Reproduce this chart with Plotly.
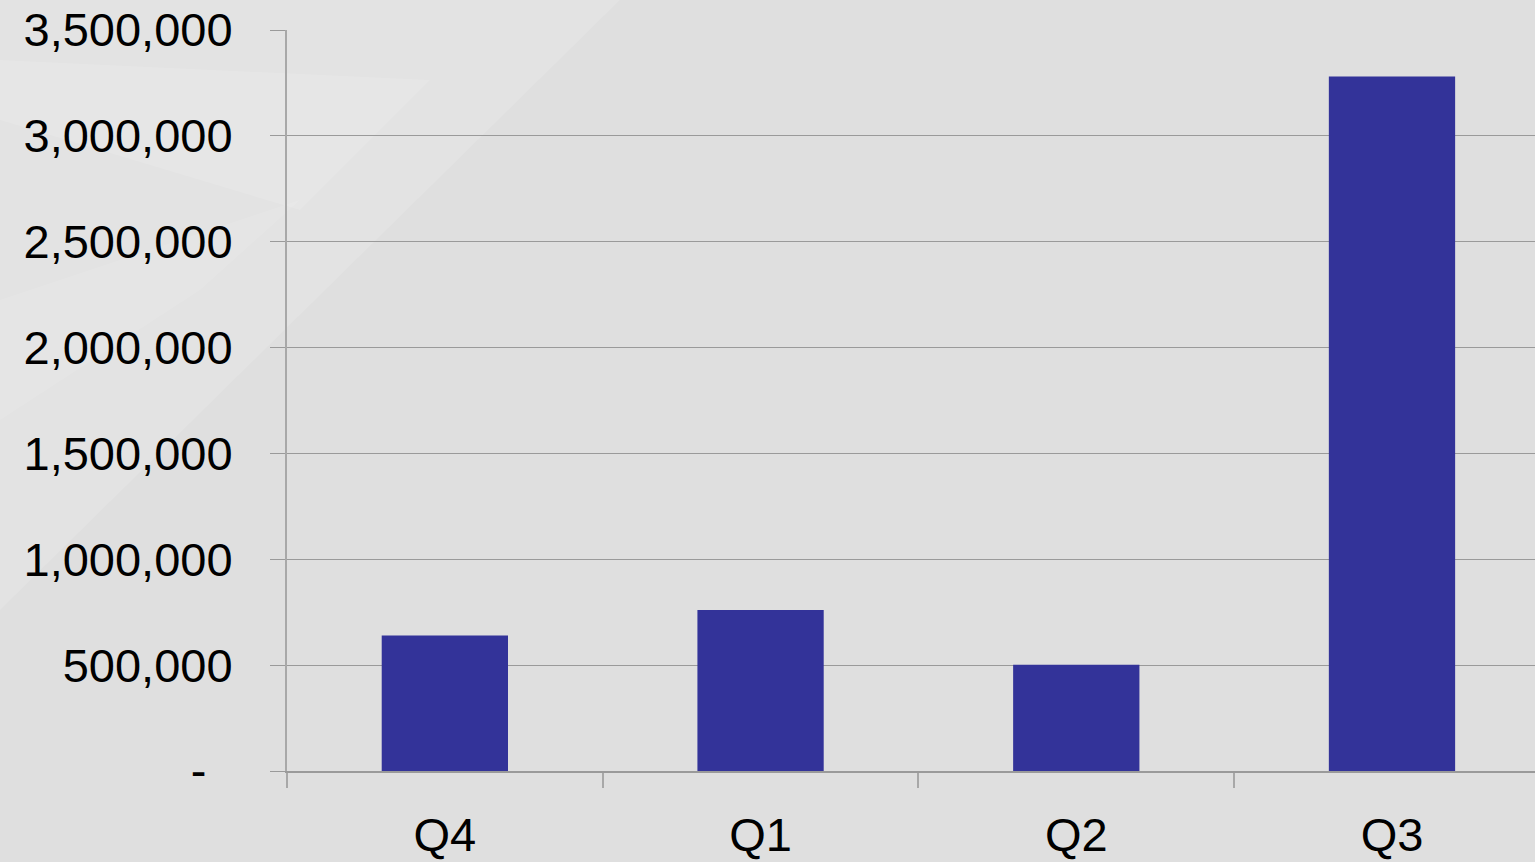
import plotly.graph_objects as go

quarters = ["Q4", "Q1", "Q2", "Q3"]
values = [640000, 760000, 502000, 3280000]
y_tickvals = [0, 500000, 1000000, 1500000, 2000000, 2500000, 3000000, 3500000]
y_ticktext = ["-\u00a0\u00a0", "500,000", "1,000,000", "1,500,000", "2,000,000",
              "2,500,000", "3,000,000", "3,500,000"]

W, H = 1535, 862
L, R, T, B = 287, 0, 30, 91
PW, PH = W - L - R, H - T - B


def px(x):
    return (x - L) / PW


def py(y):
    return (H - B - y) / PH


def poly(pts):
    return "M " + " L ".join(f"{px(a):.4f},{py(b):.4f}" for a, b in pts) + " Z"


fig = go.Figure()
fig.add_trace(go.Bar(
    x=quarters, y=values, width=0.4,
    marker=dict(color="#333399", line=dict(width=0)),
    hoverinfo="x+y",
))

# faint watermark shapes in the upper-left background
shapes = []
for pts, op in [
    ([(0, 0), (620, 0), (0, 610)], 0.13),
    ([(0, 60), (430, 80), (300, 210), (0, 120)], 0.12),
    ([(0, 300), (300, 200), (200, 290), (0, 420)], 0.10),
]:
    shapes.append(dict(type="path", path=poly(pts), xref="paper", yref="paper",
                       fillcolor="white", opacity=op, line=dict(width=0), layer="below"))

fig.update_layout(
    width=W, height=H,
    margin=dict(l=L, r=R, t=T, b=B, pad=0, autoexpand=False),
    paper_bgcolor="#dfdfdf",
    plot_bgcolor="rgba(0,0,0,0)",
    font=dict(family="Liberation Sans, Arial, sans-serif", color="#000000", size=47),
    showlegend=False,
    shapes=shapes,
    xaxis=dict(
        range=[-0.5, 3.453],
        showgrid=False,
        showline=True, linecolor="#9a9a9a", linewidth=2,
        ticks="outside", ticklen=15, tickcolor="#a8a8a8", tickwidth=2,
        tickson="boundaries",
        tickfont=dict(size=47),
        ticklabelstandoff=22,
        automargin=False,
        fixedrange=True,
    ),
    yaxis=dict(
        range=[0, 3500000],
        tickvals=y_tickvals, ticktext=y_ticktext,
        showgrid=True, gridcolor="#9a9a9a", gridwidth=1.3,
        showline=True, linecolor="#a8a8a8", linewidth=2,
        ticks="outside", ticklen=15, tickcolor="#9a9a9a", tickwidth=1.3,
        tickfont=dict(size=47),
        ticklabelstandoff=28,
        zeroline=False,
        automargin=False,
        fixedrange=True,
    ),
)

fig.write_html(
    "out.html",
    config={"displayModeBar": False},
    post_script="document.body.style.margin='0';document.body.style.background='#dfdfdf';",
)
